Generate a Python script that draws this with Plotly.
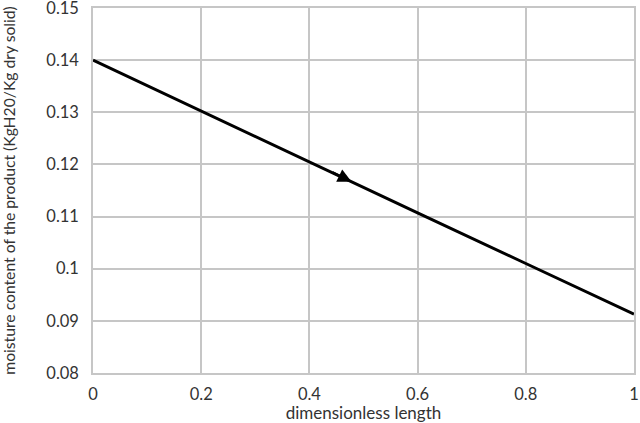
import plotly.graph_objects as go

# valores
length = [0, 0.2, 0.4, 0.6, 0.8, 1.0]
moisture = [0.14, 0.1302, 0.1205, 0.1107, 0.101, 0.0913]
# seta: ponta e cauda sobre a reta
arrow_head = (0.478, 0.1167)
arrow_tail = (0.44, 0.1186)

grid = "#c6c6c6"
font = dict(family="Lato, 'Open Sans', sans-serif", size=16.5, color="#333333")

fig = go.Figure()
fig.add_trace(go.Scatter(
    x=length, y=moisture, mode="lines",
    line=dict(color="black", width=3),
    showlegend=False, hoverinfo="skip"
))
fig.add_annotation(
    x=arrow_head[0], y=arrow_head[1], ax=arrow_tail[0], ay=arrow_tail[1],
    xref="x", yref="y", axref="x", ayref="y",
    showarrow=True, arrowhead=2, arrowsize=1.1, arrowwidth=2.5, arrowcolor="black", text=""
)

fig.update_layout(
    width=640, height=423,
    margin=dict(l=93, r=6, t=8, b=50),
    plot_bgcolor="white", paper_bgcolor="white",
    font=font
)
fig.update_xaxes(
    range=[0, 1], tickvals=[0, 0.2, 0.4, 0.6, 0.8, 1], ticktext=["0", "0.2", "0.4", "0.6", "0.8", "1"],
    showgrid=True, gridcolor=grid, gridwidth=1.5,
    showline=True, linecolor=grid, linewidth=1.5, mirror=True,
    zeroline=False, ticks="outside", ticklen=5, tickcolor="white",
    automargin=False, ticklabeloverflow="allow",
    title=dict(text="dimensionless length", standoff=13, font=dict(size=17))
)
fig.update_yaxes(
    range=[0.08, 0.15], tickvals=[0.08, 0.09, 0.1, 0.11, 0.12, 0.13, 0.14, 0.15],
    ticktext=["0.08", "0.09", "0.1", "0.11", "0.12", "0.13", "0.14", "0.15"],
    showgrid=True, gridcolor=grid, gridwidth=1.5,
    showline=True, linecolor=grid, linewidth=1.5, mirror=True,
    zeroline=False, ticks="outside", ticklen=9, tickcolor="white",
    automargin=False, ticklabeloverflow="allow",
    title=dict(text="moisture content of the product (KgH20/Kg dry solid)", standoff=28, font=dict(size=15.7))
)

# sem margem do body, para a figura ocupar a janela inteira
fig.write_html("out.html", config={"displayModeBar": False},
               post_script="document.body.style.margin='0';")
